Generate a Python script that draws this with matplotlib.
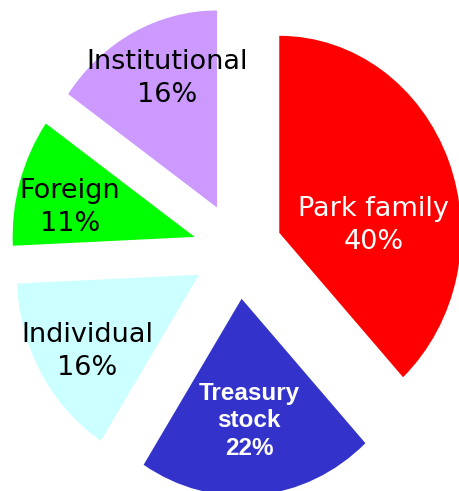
import matplotlib.pyplot as plt

# share of stock, clockwise from the top
holders = ["Park family", "Treasury\nstock", "Individual", "Foreign", "Institutional"]
shares = [40, 22, 16, 11, 16]
colors = ["#FF0000", "#3333CC", "#CCFFFF", "#00FF00", "#CC99FF"]
text_colors = ["white", "white", "black", "black", "black"]

# label centres in pie units (radius = 1)
label_pos = [(0.747, 0.128), (0.063, -0.865), (-0.827, -0.515), (-0.921, 0.22), (-0.388, 0.872)]

fig = plt.figure(figsize=(4.59, 4.91), dpi=100)
ax = fig.add_axes([0, 0, 1, 1])

# the original pie is slightly squashed sideways, so no equal aspect
ax.pie(shares, colors=colors, startangle=90, counterclock=False,
       explode=[0.246] * len(shares), wedgeprops=dict(linewidth=0))

for i, name in enumerate(holders):
    txt = f"{name}\n{shares[i]}%"
    if i == 1:
        ax.text(*label_pos[i], txt, ha="center", va="center", color=text_colors[i],
                fontsize=17.5, fontweight="bold", family="Liberation Sans", linespacing=1.25)
    else:
        ax.text(*label_pos[i], txt, ha="center", va="center", color=text_colors[i],
                fontsize=19.5, linespacing=1.35)

ax.set_aspect("auto")
ax.set_xlim(-1.3055, 1.2165)
ax.set_ylim(-1.2208, 1.2716)
ax.axis("off")

plt.savefig("out.png", dpi=100)
